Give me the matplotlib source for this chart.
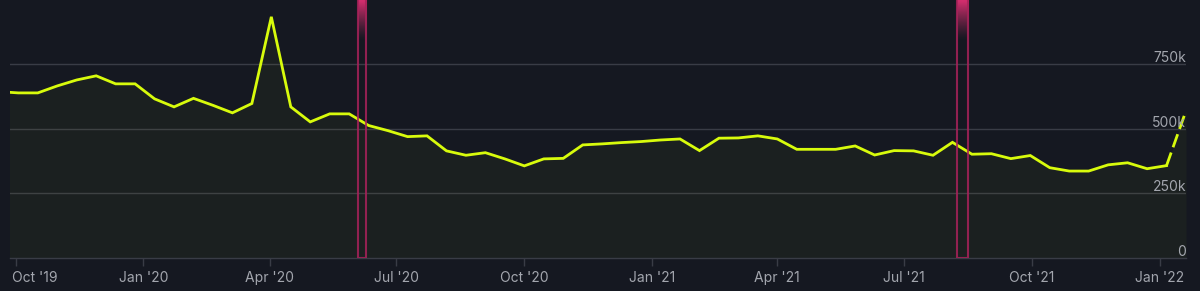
import numpy as np
import pandas as pd
import matplotlib
matplotlib.use("Agg")
import matplotlib.pyplot as plt
import matplotlib.dates as mdates
import matplotlib.transforms as mtransforms
from matplotlib.patches import Rectangle

# biweekly samples, values in thousands
dates = pd.date_range(start="2019-09-19", periods=62, freq="14D")
values = [643, 638, 638, 665, 688, 704, 673, 673, 615, 584, 617, 590, 561, 597, 932, 584,
          526, 557, 557, 512, 492, 469, 472, 414, 397, 407, 383, 356, 383, 385, 437, 441,
          446, 450, 456, 460, 415, 463, 464, 472, 460, 420, 420, 420, 433, 398, 415, 414,
          397, 447, 401, 403, 384, 396, 349, 336, 336, 360, 368, 345, 357, 569]

# highlighted periods
bands = [("2020-06-03", "2020-06-09"), ("2021-08-08", "2021-08-16")]

y_ticks = [0, 250, 500, 750]
y_labels = ["0", "250k", "500k", "750k"]

bg = "#151821"
line_col = "#d8fb0c"
grid_col = "#393c46"
text_col = "#a3a6ae"
pink = "#a8225a"

plt.rcParams["font.family"] = ["Inter", "DejaVu Sans"]

fig = plt.figure(figsize=(12, 2.91), dpi=100)
fig.patch.set_facecolor(bg)
ax = fig.add_axes([10 / 1200, 33 / 291, 1176 / 1200, 258 / 291])
ax.set_facecolor(bg)

x = mdates.date2num(dates)
v = np.array(values)

ax.fill_between(x, v, 0, color=line_col, alpha=0.035, lw=0, zorder=1)
ax.plot(x[:-1], v[:-1], color=line_col, lw=2.0, solid_joinstyle="miter", zorder=3)
ax.plot(x[-2:], v[-2:], color=line_col, lw=2.0, dashes=[5, 2], zorder=3)

ymax = 997
xmin = mdates.date2num(pd.Timestamp("2019-09-27"))
xmax = mdates.date2num(pd.Timestamp("2022-01-20"))

# pink bands with fading top
grad = np.zeros((100, 1, 4))
grad[:, 0, :3] = matplotlib.colors.to_rgb("#dc2f72")
t = np.linspace(0, 1, 100)
grad[:, 0, 3] = np.clip(1 - t / 0.15, 0, 1) ** 1.2 * 0.95
for a, b in bands:
    x0 = mdates.date2num(pd.Timestamp(a))
    x1 = mdates.date2num(pd.Timestamp(b))
    ax.imshow(grad, extent=[x0, x1, 0, ymax], aspect="auto", origin="upper",
              zorder=4, interpolation="bilinear")
    ax.add_patch(Rectangle((x0, 0), x1 - x0, ymax + 50, fill=False,
                           edgecolor=pink, lw=1.5, alpha=0.85, zorder=5))

ax.set_xlim(xmin, xmax)
ax.set_ylim(0, ymax)

for yv in y_ticks[1:]:
    ax.axhline(yv, color=grid_col, lw=1, zorder=0.5)
for yv, lab in zip(y_ticks, y_labels):
    ax.annotate(lab, xy=(1, yv), xycoords=("axes fraction", "data"),
                xytext=(0, 2), textcoords="offset pixels",
                ha="right", va="baseline", color=text_col, fontsize=10, zorder=6)

ax.xaxis.set_major_locator(mdates.MonthLocator(bymonth=[1, 4, 7, 10]))
ax.xaxis.set_major_formatter(mdates.DateFormatter("%b '%y"))
ax.tick_params(axis="x", colors=grid_col, labelcolor=text_col, labelsize=10,
               length=6, width=1, pad=3.5)
ax.set_yticks([])
for s in ["left", "right", "top"]:
    ax.spines[s].set_visible(False)
ax.spines["bottom"].set_color(grid_col)
ax.spines["bottom"].set_linewidth(1)

# first label sits flush with the left edge
fig.canvas.draw()
first = ax.get_xticklabels()[0]
first.set_ha("left")
first.set_transform(first.get_transform() + mtransforms.ScaledTranslation(-4 / 100, 0, fig.dpi_scale_trans))

fig.savefig("out.png", dpi=100, facecolor=bg)
